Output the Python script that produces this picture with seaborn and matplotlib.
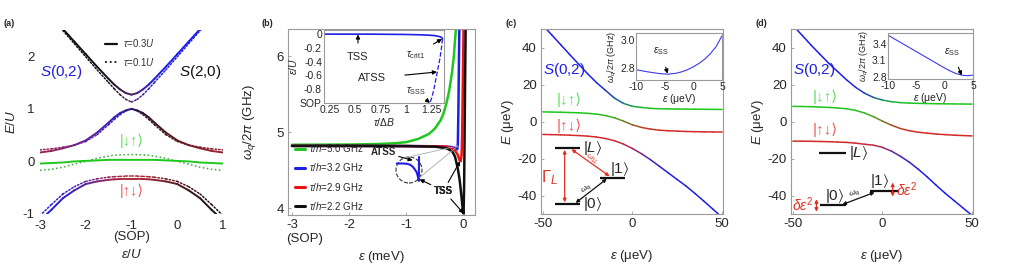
import numpy as np
import matplotlib
matplotlib.use("Agg")
import matplotlib.pyplot as plt
import seaborn as sns
from matplotlib.collections import LineCollection
from matplotlib.colors import to_rgb
from matplotlib.lines import Line2D
from matplotlib.patches import Ellipse, ConnectionPatch

# ---------------- data ----------------
# (a) energies vs eps/U, solid tau=0.3U, dotted tau=0.1U
eps_a = [-3, -2.75, -2.5, -2.25, -2, -1.75, -1.5, -1.375, -1.25, -1.125, -1,
         -0.875, -0.75, -0.625, -0.5, -0.25, 0, 0.25, 0.5, 0.75, 1]
top_solid = [3.02, 2.77, 2.52, 2.28, 2.04, 1.80, 1.57, 1.46, 1.37, 1.30, 1.27,
             1.30, 1.37, 1.46, 1.57, 1.80, 2.04, 2.28, 2.52, 2.77, 3.02]
top_dot = [2.99, 2.74, 2.49, 2.24, 1.99, 1.74, 1.50, 1.38, 1.27, 1.18, 1.13,
           1.18, 1.27, 1.38, 1.50, 1.74, 1.99, 2.24, 2.49, 2.74, 2.99]
mid_solid = [0.17, 0.20, 0.25, 0.31, 0.40, 0.55, 0.74, 0.84, 0.92, 0.97, 1.00,
             0.97, 0.92, 0.84, 0.74, 0.55, 0.40, 0.31, 0.25, 0.20, 0.17]
mid_dot = [0.22, 0.24, 0.27, 0.31, 0.38, 0.51, 0.70, 0.80, 0.89, 0.96, 1.00,
           0.96, 0.89, 0.80, 0.70, 0.51, 0.38, 0.31, 0.27, 0.24, 0.22]
grn_solid = [-0.04, -0.03, -0.02, 0.00, 0.01, 0.02, 0.03, 0.03, 0.03, 0.03, 0.03,
             0.03, 0.03, 0.03, 0.03, 0.02, 0.01, 0.00, -0.02, -0.03, -0.04]
grn_dot = [-0.17, -0.15, -0.11, -0.05, 0.00, 0.06, 0.10, 0.12, 0.125, 0.13, 0.13,
           0.13, 0.125, 0.12, 0.10, 0.06, 0.00, -0.05, -0.11, -0.15, -0.17]
bot_solid = [-1.12, -0.92, -0.70, -0.55, -0.43, -0.38, -0.35, -0.34, -0.335, -0.33, -0.33,
             -0.33, -0.335, -0.34, -0.35, -0.38, -0.43, -0.55, -0.70, -0.92, -1.12]
bot_dot = [-1.03, -0.82, -0.62, -0.48, -0.38, -0.33, -0.30, -0.29, -0.285, -0.28, -0.28,
           -0.28, -0.285, -0.29, -0.30, -0.33, -0.38, -0.48, -0.62, -0.82, -1.03]

# (b) qubit frequency vs eps (meV)
b_labels = ["5.0", "3.2", "2.9", "2.2"]
eps_b50 = [-3.0, -2.0, -1.5, -1.2, -1.0, -0.8, -0.6, -0.5, -0.4, -0.35, -0.3, -0.25, -0.2, -0.17, -0.14, -0.12]
w_b50 = [4.835, 4.838, 4.845, 4.855, 4.87, 4.91, 4.98, 5.05, 5.16, 5.25, 5.38, 5.55, 5.80, 6.00, 6.30, 6.50]
eps_b32 = [-3.0, -2.0, -1.0, -0.5, -0.3, -0.2, -0.15, -0.12, -0.11, -0.1, -0.09, -0.08, -0.07]
w_b32 = [4.82, 4.82, 4.818, 4.815, 4.81, 4.805, 4.795, 4.78, 4.775, 4.85, 5.3, 6.0, 6.6]
eps_b29 = [-3.0, -2.0, -1.0, -0.5, -0.3, -0.2, -0.15, -0.1, -0.07, -0.05, -0.035, -0.025, -0.015, -0.005, 0.005]
w_b29 = [4.82, 4.82, 4.818, 4.815, 4.81, 4.79, 4.76, 4.70, 4.63, 4.62, 4.70, 4.95, 5.50, 6.10, 6.60]
eps_b22 = [-3.0, -2.0, -1.0, -0.5, -0.3, -0.2, -0.15, -0.1, -0.07, -0.05, -0.03, -0.015, 0.0, 0.01, 0.02, 0.03, 0.04]
w_b22 = [4.82, 4.82, 4.818, 4.81, 4.79, 4.75, 4.68, 4.52, 4.38, 4.25, 4.10, 3.99, 3.93, 4.30, 5.10, 5.90, 6.60]
# magnified ATSS feature (local units inside the dashed circle)
atss_x = [0.03, 0.25, 0.42, 0.55, 0.65, 0.74, 0.80, 0.85, 0.88, 0.885]
atss_y = [0.75, 0.75, 0.74, 0.70, 0.62, 0.50, 0.40, 0.22, 0.08, 1.0]
# (b) inset: sweet spot position vs tau/DeltaB
tau_solid = [0.19, 0.4, 0.6, 0.8, 1.0, 1.1, 1.2, 1.28, 1.32, 1.345, 1.36, 1.365]
eu_solid = [0.0, 0.0, 0.0, -0.002, -0.005, -0.008, -0.013, -0.02, -0.03, -0.04, -0.055, -0.07]
tau_dash = [1.365, 1.355, 1.34, 1.32, 1.30, 1.28, 1.26, 1.24]
eu_dash = [-0.07, -0.2, -0.35, -0.5, -0.65, -0.8, -0.92, -1.0]

# (c) spectrum vs eps (ueV)
eps_cd = [-50, -45, -40, -35, -30, -25, -20, -15, -10, -5, 0, 5, 10, 15, 20, 25, 30, 35, 40, 45, 50]
c_top = [52, 46.8, 41.5, 36.2, 31, 25.8, 21.0, 16.8, 12.6, 9.8, 8.2, 7.6, 7.1, 6.9, 6.8, 6.75, 6.7, 6.65, 6.6, 6.55, 6.5]
c_mid = [5.2, 5.1, 5.0, 4.85, 4.7, 4.4, 4.0, 3.2, 2.0, 0.2, -1.8, -3.2, -4.1, -4.7, -5.0, -5.2, -5.4, -5.5, -5.6, -5.65, -5.7]
c_bot = [-7.0, -7.1, -7.2, -7.4, -7.6, -7.9, -8.4, -9.2, -10.4, -12.2, -14.6, -17.4, -20.6, -24.2, -27.8, -31.4,
         -35.0, -39.0, -43.2, -47.5, -51.8]
c_inset_eps = [-10, -8, -6, -4.5, -3, -2, -1, 0, 1, 2, 3, 4, 5]
c_inset_w = [2.79, 2.775, 2.763, 2.758, 2.765, 2.775, 2.79, 2.81, 2.835, 2.865, 2.905, 2.955, 3.03]
c_lvl_names = [r"$|L\rangle$", r"$|0\rangle$", r"$|1\rangle$"]
c_lvl_x0 = [-43.3, -43.3, -18.3]
c_lvl_x1 = [-29.4, -29.4, -4.4]
c_lvl_E = [-14.5, -44.5, -30.5]

# (d) spectrum vs eps (ueV)
d_top = [52, 46.8, 41.5, 36.5, 31.5, 27.0, 22.5, 18.5, 15.3, 13.0, 11.6, 10.7, 10.2, 9.95, 9.8, 9.7, 9.6, 9.55, 9.5, 9.45, 9.4]
d_mid = [8.2, 8.1, 8.0, 7.8, 7.6, 7.3, 6.9, 6.0, 4.6, 2.6, 0.2, -2.0, -3.8, -5.0, -5.8, -6.3, -6.8, -7.1, -7.4, -7.6, -7.8]
d_bot = [-10.6, -10.65, -10.7, -10.8, -10.9, -11.1, -11.3, -11.7, -12.3, -12.8, -14.0, -16.0, -18.8, -22.0, -25.8,
         -30.0, -34.5, -38.8, -42.8, -46.8, -50.8]
d_inset_eps = [-10, -8, -6, -4, -2, 0, 1, 2, 3, 4, 5]
d_inset_w = [3.56, 3.44, 3.32, 3.20, 3.08, 2.96, 2.905, 2.86, 2.83, 2.82, 2.83]
d_lvl_names = [r"$|L\rangle$", r"$|0\rangle$", r"$|1\rangle$"]
d_lvl_x0 = [-35.6, -35.0, -7.2]
d_lvl_x1 = [-20.2, -20.6, 9.4]
d_lvl_E = [-17.0, -45.4, -37.4]

# ---------------- style ----------------
sns.set_theme(style="white")
plt.rcParams["font.family"] = ["Liberation Sans", "DejaVu Sans"]
plt.rcParams["mathtext.fontset"] = "custom"
plt.rcParams["mathtext.rm"] = "Liberation Sans"
plt.rcParams["mathtext.it"] = "Liberation Sans:italic"
plt.rcParams["mathtext.bf"] = "Liberation Sans:bold"
plt.rcParams["mathtext.fallback"] = "stixsans"
plt.rcParams["axes.unicode_minus"] = False

BLUE = "#1e1ee6"
RED = "#d42a2a"
RED_A = "#b02a3a"
GREEN = "#1ec81e"
BLACK = "#111111"
LGREEN = "#5ee05e"
LRED = "#f05a5a"
FRAME = "#9a9a9a"
FS = 9.5


def mix(cols, weights):
    out = np.zeros(3)
    for c, w in zip(cols, weights):
        out += w * np.array(to_rgb(c))
    return tuple(np.clip(out, 0, 1))


def sig(z):
    return 1.0 / (1.0 + np.exp(-z))


def grad_line(ax, x, y, colfn, lw, ls="-"):
    x = np.asarray(x, float)
    y = np.asarray(y, float)
    pts = np.column_stack([x, y]).reshape(-1, 1, 2)
    segs = np.concatenate([pts[:-1], pts[1:]], axis=1)
    cols = [colfn(v) for v in 0.5 * (x[:-1] + x[1:])]
    ax.add_collection(LineCollection(segs, colors=cols, linewidths=lw, linestyles=ls,
                                     capstyle="round"))


def frame(ax, size=FS):
    for s in ax.spines.values():
        s.set_visible(True)
        s.set_color(FRAME)
        s.set_linewidth(0.8)
    ax.tick_params(direction="in", length=2, width=0.6, color=FRAME, labelsize=size, pad=3,
                   bottom=True, left=True)


W, H = 1010, 266


def rect(x0, y0, x1, y1):
    return [x0 / W, 1 - y1 / H, (x1 - x0) / W, (y1 - y0) / H]


fig = plt.figure(figsize=(10.1, 2.66), dpi=100)
ax_a = fig.add_axes(rect(40, 30, 223, 214))
ax_b = fig.add_axes(rect(288, 29, 475, 215))
ax_c = fig.add_axes(rect(541, 29, 723, 214))
ax_d = fig.add_axes(rect(791, 29, 973, 214))

# ---------------- (a) ----------------
def a_top(e):
    d = e + 1
    wr = 0.35 * np.exp(-(d / 0.35) ** 2)
    s = sig(d / 0.2)
    return mix([RED_A, BLUE, BLACK], [wr, (1 - wr) * s, (1 - wr) * (1 - s)])


def a_mid(e):
    d = e + 1
    wr = 0.15 + 0.8 * (1 - np.exp(-(d / 1.4) ** 2))
    s = sig(d / 0.15)
    return mix([RED_A, BLUE, BLACK], [wr, (1 - wr) * (1 - s), (1 - wr) * s])


def a_bot(e):
    d = e + 1
    wr = np.exp(-(d / 1.1) ** 2)
    s = sig(d / 0.15)
    return mix([RED_A, BLUE, BLACK], [wr, (1 - wr) * (1 - s), (1 - wr) * s])


DOT = (0, (1, 1.3))
grad_line(ax_a, eps_a, top_dot, a_top, 1.1, DOT)
grad_line(ax_a, eps_a, mid_dot, a_mid, 1.1, DOT)
grad_line(ax_a, eps_a, bot_dot, a_bot, 1.1, DOT)
sns.lineplot(x=eps_a, y=grn_dot, ax=ax_a, color="#3aa83a", lw=1.1, ls=":", estimator=None)
grad_line(ax_a, eps_a, top_solid, a_top, 1.4)
grad_line(ax_a, eps_a, mid_solid, a_mid, 1.4)
grad_line(ax_a, eps_a, bot_solid, a_bot, 1.4)
sns.lineplot(x=eps_a, y=grn_solid, ax=ax_a, color=GREEN, lw=1.4, estimator=None)

ax_a.set_xlim(-3, 1)
ax_a.set_ylim(-1, 2.5)
ax_a.set_xticks([-3, -2, -1, 0, 1])
ax_a.set_yticks([-1, 0, 1, 2])
for s in ax_a.spines.values():
    s.set_visible(False)
ax_a.tick_params(length=0, labelsize=FS, pad=4)
ax_a.set_xlabel(r"$\varepsilon/U$", fontsize=FS, labelpad=12)
ax_a.set_ylabel(r"$E/U$", fontsize=FS, labelpad=3)
ax_a.text(-1, -0.095, "(SOP)", transform=ax_a.get_xaxis_transform(), ha="center", va="top", fontsize=FS)
ax_a.text(-3, 1.7, r"$S$(0,2)", color=BLUE, fontsize=11, ha="left", va="center")
ax_a.text(0.97, 1.7, r"$S$(2,0)", color=BLACK, fontsize=11, ha="right", va="center")
ax_a.text(-1, 0.4, "|↓↑⟩", color=LGREEN, fontsize=10.5, ha="center", va="center")
ax_a.text(-1, -0.56, "|↑↓⟩", color=LRED, fontsize=10.5, ha="center", va="center")
leg_a = [Line2D([], [], color=BLACK, lw=1.6), Line2D([], [], color=BLACK, lw=1.3, ls=":")]
ax_a.legend(leg_a, [r"$\tau$=0.3$U$", r"$\tau$=0.1$U$"], loc="upper left", bbox_to_anchor=(0.31, 1.01),
            frameon=False, fontsize=7, handlelength=1.2, labelspacing=0.7, handletextpad=0.6,
            labelcolor="#333333")

# ---------------- (b) ----------------
b_cols = [GREEN, BLUE, "#ee1111", BLACK]
for (ex, wy), c in zip([(eps_b50, w_b50), (eps_b32, w_b32), (eps_b29, w_b29), (eps_b22, w_b22)], b_cols):
    sns.lineplot(x=ex, y=wy, ax=ax_b, color=c, lw=1.8, estimator=None, sort=False)
ax_b.set_xlim(-3.07, 0.2)
ax_b.set_ylim(3.91, 6.36)
ax_b.set_xticks([-3, -2, -1, 0])
ax_b.set_yticks([4, 5, 6])
frame(ax_b)
ax_b.set_xlabel(r"$\varepsilon$ (meV)", fontsize=FS, labelpad=13)
ax_b.set_ylabel(r"$\omega_q/2\pi$ (GHz)", fontsize=FS, labelpad=13)
ax_b.text(-3.1, -0.095, "(SOP)", transform=ax_b.get_xaxis_transform(), ha="left", va="top", fontsize=FS)
leg_b = [Line2D([], [], color=c, lw=2.2) for c in b_cols]
ax_b.legend(leg_b, [r"$\tau/h$=" + v + " GHz" for v in b_labels], loc="lower left",
            bbox_to_anchor=(-0.01, -0.03), frameon=False, fontsize=7, handlelength=1.0,
            labelspacing=0.75, handletextpad=0.5)
arr = dict(arrowstyle="-|>", color="black", lw=0.8, mutation_scale=6, shrinkA=0, shrinkB=0)
ax_b.annotate("ATSS", xy=(-0.89, 4.63), xytext=(-1.19, 4.74), fontsize=7, fontweight="bold",
              ha="right", va="center", arrowprops=arr)
for target in [(-0.77, 4.38), (-0.06, 4.62), (0.0, 3.93)]:
    ax_b.annotate("TSS", xy=target, xytext=(-0.35, 4.23), fontsize=7, fontweight="bold",
                  ha="center", va="center", arrowprops=arr)

zoom_b = fig.add_axes(rect(396, 157, 422, 183))
zoom_b.set_axis_off()
zoom_b.set_xlim(0, 1)
zoom_b.set_ylim(0, 1)
sns.lineplot(x=atss_x, y=atss_y, ax=zoom_b, color=BLUE, lw=1.5, estimator=None, sort=False)
for ln in zoom_b.lines:
    ln.set_clip_on(False)
zoom_b.add_patch(Ellipse((0.5, 0.5), 1.0, 1.0, fill=False, ls="--", lw=0.8, color="#333333",
                         transform=zoom_b.transAxes, clip_on=False))
for pt in [(0.35, 0.97), (0.9, 0.2)]:
    fig.add_artist(ConnectionPatch(xyA=pt, coordsA=zoom_b.transAxes, xyB=(-0.1, 4.82),
                                   coordsB=ax_b.transData, color="#aaaaaa", lw=0.6))

ins_b = fig.add_axes(rect(324, 30, 444, 103))
sns.lineplot(x=tau_solid, y=eu_solid, ax=ins_b, color=BLUE, lw=1.2, estimator=None, sort=False)
sns.lineplot(x=tau_dash, y=eu_dash, ax=ins_b, color=BLUE, lw=0.9, ls="--", estimator=None, sort=False)
ins_b.set_xlim(0.19, 1.38)
ins_b.set_ylim(-1.0, 0.06)
ins_b.set_xticks([0.25, 0.5, 0.75, 1, 1.25])
ins_b.set_xticklabels(["0.25", "0.5", "0.75", "1", "1.25"])
ins_b.set_yticks([0, -0.2, -0.4, -0.6, -0.8, -1.0])
ins_b.set_yticklabels(["0", "-0.2", "-0.4", "-0.6", "-0.8", "SOP"])
frame(ins_b, 7.5)
ins_b.tick_params(length=0, pad=1.5)
ins_b.set_xlabel(r"$\tau/\Delta B$", fontsize=7.5, labelpad=1)
ins_b.set_ylabel(r"$\varepsilon/U$", fontsize=7.5, labelpad=1)
ins_b.annotate("TSS", xy=(0.527, -0.005), xytext=(0.527, -0.33), fontsize=8, ha="center", va="center",
               arrowprops=dict(arr, shrinkA=4))
ins_b.annotate(r"$\tau_{\rm crit1}$", xy=(1.36, -0.07), xytext=(1.1, -0.3), fontsize=7.5, ha="center",
               va="center", arrowprops=dict(arr, shrinkA=4))
ins_b.annotate("ATSS", xy=(1.31, -0.55), xytext=(0.67, -0.64), fontsize=8, ha="center", va="center",
               arrowprops=dict(arr, shrinkA=11))
ins_b.annotate(r"$\tau_{\rm SSS}$", xy=(1.24, -1.0), xytext=(1.1, -0.82), fontsize=7.5, ha="center",
               va="center", arrowprops=dict(arr, shrinkA=4))


# ---------------- (c) & (d) ----------------
def make_cfns(ct, cm, cb):
    f_top = lambda e: mix([BLUE, GREEN], [1 - sig((e - ct) / 5), sig((e - ct) / 5)])
    f_mid = lambda e: mix([GREEN, RED], [1 - sig((e - cm) / 5), sig((e - cm) / 5)])
    f_bot = lambda e: mix([RED, BLUE], [1 - sig((e - cb) / 5), sig((e - cb) / 5)])
    return f_top, f_mid, f_bot


def spectrum(ax, top, mid, bot, centers):
    ft, fm, fb = make_cfns(*centers)
    grad_line(ax, eps_cd, top, ft, 1.1)
    grad_line(ax, eps_cd, mid, fm, 1.1)
    grad_line(ax, eps_cd, bot, fb, 1.1)
    ax.set_xlim(-51, 50.5)
    ax.set_ylim(-50, 50)
    ax.set_xticks([-50, 0, 50])
    ax.set_yticks([-40, -20, 0, 20, 40])
    frame(ax)
    ax.set_xlabel(r"$\varepsilon$ (μeV)", fontsize=FS, labelpad=13)
    ax.set_ylabel(r"$E$ (μeV)", fontsize=FS, labelpad=1)


def inset(ax, ex, wy, ylim, yticks):
    sns.lineplot(x=ex, y=wy, ax=ax, color="#3a3af0", lw=0.8, estimator=None)
    ax.set_xlim(-10, 5)
    ax.set_ylim(*ylim)
    ax.set_xticks([-10, -5, 0, 5])
    ax.set_yticks(yticks)
    frame(ax, 7.5)
    ax.tick_params(length=0, pad=1)
    ax.tick_params(axis="x", pad=1.5)
    ax.set_xlabel(r"$\varepsilon$ (μeV)", fontsize=7.5, labelpad=0)
    ax.set_ylabel(r"$\omega_q/2\pi$ (GHz)", fontsize=6.5, labelpad=1)


spectrum(ax_c, c_top, c_mid, c_bot, (-5, -3, 5))
ax_c.text(-50, 27.9, r"$S$(0,2)", color=BLUE, fontsize=11, ha="left", va="center")
ax_c.text(-42.2, 11.7, "|↓↑⟩", color=LGREEN, fontsize=11, ha="left", va="center")
ax_c.text(-42.2, -2.3, "|↑↓⟩", color=LRED, fontsize=11, ha="left", va="center")
ax_c.hlines(c_lvl_E, c_lvl_x0, c_lvl_x1, color=BLACK, lw=1.6)
ax_c.text(-27.5, c_lvl_E[0], c_lvl_names[0], fontsize=11, ha="left", va="center")
ax_c.text(-27.5, c_lvl_E[1], c_lvl_names[1], fontsize=11, ha="left", va="center")
ax_c.text(-12.5, -25.8, c_lvl_names[2], fontsize=11, ha="left", va="center")
darr_r = dict(arrowstyle="<|-|>", color="#e03020", lw=0.9, mutation_scale=5, shrinkA=0, shrinkB=0)
darr_k = dict(arrowstyle="<|-|>", color=BLACK, lw=0.9, mutation_scale=5, shrinkA=0, shrinkB=0)
ax_c.annotate("", xy=(-37.8, -15.3), xytext=(-37.8, -43.7), arrowprops=darr_r)
ax_c.text(-46.5, -30.4, r"$\Gamma_L$", color="#e03020", fontsize=12, ha="center", va="center")
ax_c.annotate("", xy=(-34, -15.0), xytext=(-12.8, -29.6), arrowprops=darr_r)
ax_c.text(-22.5, -20.5, r"$\omega_{1L}$", color="#e03020", fontsize=6, rotation=-35, ha="center", va="center")
ax_c.annotate("", xy=(-31.7, -44.0), xytext=(-14.3, -31.0), arrowprops=darr_k)
ax_c.text(-25.5, -36.0, r"$\omega_q$", color=BLACK, fontsize=6, rotation=38, ha="center", va="center")

ins_c = fig.add_axes(rect(636, 33, 722, 80))
inset(ins_c, c_inset_eps, c_inset_w, (2.717, 3.05), [2.8, 3.0])
ins_c.annotate(r"$\varepsilon_{\rm SS}$", xy=(-4.5, 2.762), xytext=(-5.6, 2.92), fontsize=7.5,
               ha="center", va="center", arrowprops=dict(arr, shrinkA=5))

spectrum(ax_d, d_top, d_mid, d_bot, (-3, 0, 5))
ax_d.text(-50, 27.9, r"$S$(0,2)", color=BLUE, fontsize=11, ha="left", va="center")
ax_d.text(-38.9, 13.5, "|↓↑⟩", color=LGREEN, fontsize=11, ha="left", va="center")
ax_d.text(-38.9, -4.5, "|↑↓⟩", color=LRED, fontsize=11, ha="left", va="center")
ax_d.hlines(d_lvl_E, d_lvl_x0, d_lvl_x1, color=BLACK, lw=1.6)
ax_d.text(-18.5, d_lvl_E[0], d_lvl_names[0], fontsize=11, ha="left", va="center")
ax_d.text(-32.0, -40.3, d_lvl_names[1], fontsize=11, ha="left", va="center")
ax_d.text(-6.8, -32.3, d_lvl_names[2], fontsize=11, ha="left", va="center")
ax_d.annotate("", xy=(-36.8, -42.0), xytext=(-36.8, -48.8), arrowprops=darr_r)
ax_d.annotate("", xy=(5.7, -33.0), xytext=(5.7, -40.6), arrowprops=darr_r)
ax_d.text(-38.3, -44.8, r"$\delta\varepsilon^2$", color="#e03020", fontsize=10, ha="right", va="center")
ax_d.text(7.5, -36.6, r"$\delta\varepsilon^2$", color="#e03020", fontsize=10, ha="left", va="center")
ax_d.annotate("", xy=(-22.4, -44.9), xytext=(-4.4, -38.3), arrowprops=darr_k)
ax_d.text(-15.5, -38.6, r"$\omega_q$", color=BLACK, fontsize=6, rotation=20, ha="center", va="center")

ins_d = fig.add_axes(rect(888, 33, 973, 79))
inset(ins_d, d_inset_eps, d_inset_w, (2.76, 3.6), [2.8, 3.1, 3.4])
ins_d.annotate(r"$\varepsilon_{\rm SS}$", xy=(3.0, 2.825), xytext=(1.3, 3.26), fontsize=7.5,
               ha="center", va="center", arrowprops=dict(arr, shrinkA=5))

for lab, x in [("(a)", 3), ("(b)", 262), ("(c)", 505), ("(d)", 755)]:
    fig.text(x / W, 1 - 24 / H, lab, fontsize=6.5, fontweight="bold", ha="left", va="center")

fig.savefig("out.png", dpi=100)
